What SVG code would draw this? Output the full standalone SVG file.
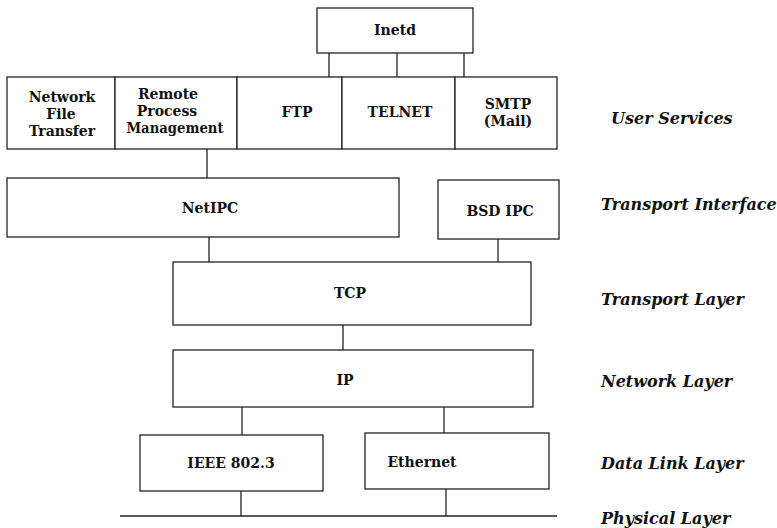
<svg xmlns="http://www.w3.org/2000/svg" width="777" height="528" viewBox="0 0 777 528">
<style>
.box{fill:#fff;stroke:#222;stroke-width:1.3}
.ln{stroke:#222;stroke-width:1.3;fill:none}
.t{font-family:"DejaVu Serif",serif;font-weight:bold;font-size:14px;fill:#111;text-anchor:middle}
.lbl{font-family:"DejaVu Serif",serif;font-weight:bold;font-style:italic;font-size:16px;fill:#111}
</style>
<rect width="777" height="528" fill="#fff"/>
<g id="connectors">
<line class="ln" x1="329" y1="53" x2="329" y2="77"/>
<line class="ln" x1="397" y1="53" x2="397" y2="77"/>
<line class="ln" x1="464" y1="53" x2="464" y2="77"/>
<line class="ln" x1="207" y1="149" x2="207" y2="178"/>
<line class="ln" x1="209" y1="237" x2="209" y2="262"/>
<line class="ln" x1="498" y1="239" x2="498" y2="262"/>
<line class="ln" x1="343" y1="325" x2="343" y2="350"/>
<line class="ln" x1="242" y1="407" x2="242" y2="435"/>
<line class="ln" x1="444" y1="407" x2="444" y2="433"/>
<line class="ln" x1="241" y1="491" x2="241" y2="516"/>
<line class="ln" x1="446" y1="489" x2="446" y2="516"/>
</g>
<g id="inetd"><rect class="box" x="317" y="8" width="156" height="45"/><text class="t" x="395" y="35">Inetd</text></g>
<g id="nft"><rect class="box" x="7" y="77" width="108" height="72"/><text class="t" x="62" y="102">Network</text><text class="t" x="61" y="119">File</text><text class="t" x="62" y="136">Transfer</text></g>
<g id="rpm"><rect class="box" x="115" y="77" width="122" height="72"/><text class="t" x="168" y="99">Remote</text><text class="t" x="167" y="116">Process</text><text class="t" x="175" y="133" textLength="97" lengthAdjust="spacingAndGlyphs">Management</text></g>
<g id="ftp"><rect class="box" x="237" y="77" width="105" height="72"/><text class="t" x="297" y="117">FTP</text></g>
<g id="telnet"><rect class="box" x="342" y="77" width="113" height="72"/><text class="t" x="400" y="117">TELNET</text></g>
<g id="smtp"><rect class="box" x="455" y="77" width="102" height="72"/><text class="t" x="508" y="109">SMTP</text><text class="t" x="508" y="126">(Mail)</text></g>
<g id="netipc"><rect class="box" x="7" y="178" width="392" height="59"/><text class="t" x="210" y="213">NetIPC</text></g>
<g id="bsdipc"><rect class="box" x="438" y="180" width="121" height="59"/><text class="t" x="500" y="216">BSD IPC</text></g>
<g id="tcp"><rect class="box" x="173" y="262" width="358" height="63"/><text class="t" x="350" y="298">TCP</text></g>
<g id="ip"><rect class="box" x="173" y="350" width="360" height="57"/><text class="t" x="345" y="385">IP</text></g>
<g id="ieee"><rect class="box" x="140" y="435" width="183" height="56"/><text class="t" x="231" y="468">IEEE 802.3</text></g>
<g id="ethernet"><rect class="box" x="365" y="433" width="184" height="56"/><text class="t" x="422" y="467">Ethernet</text></g>
<g id="physical"><line class="ln" x1="120" y1="516" x2="557" y2="516"/></g>
<g id="labels">
<text class="lbl" x="611" y="124">User Services</text>
<text class="lbl" x="601" y="210">Transport Interface</text>
<text class="lbl" x="601" y="305">Transport Layer</text>
<text class="lbl" x="601" y="387">Network Layer</text>
<text class="lbl" x="601" y="469">Data Link Layer</text>
<text class="lbl" x="601" y="524">Physical Layer</text>
</g>
</svg>
